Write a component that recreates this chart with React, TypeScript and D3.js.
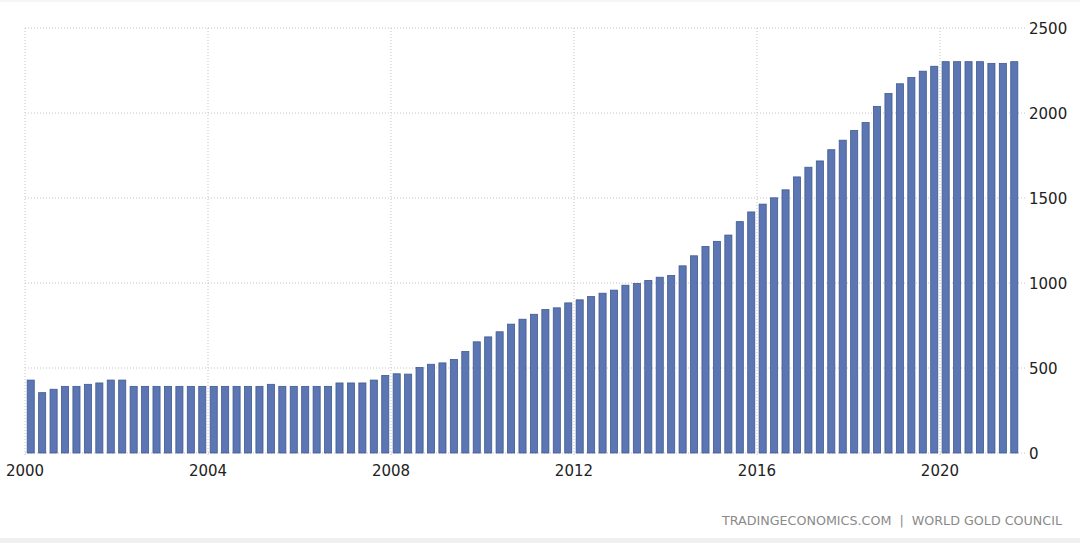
import * as d3 from 'd3';

// Russia gold reserves, tonnes, quarterly 2000 Q1 - 2021 Q3
const startYear = 2000;
const reserves = [
  429, 355, 375, 392, 392, 404, 412, 429, 429,
  392, 392, 392, 392, 392, 392, 392, 392, 392, 392, 392, 392,
  404, 392, 392, 392, 392, 392, 412, 412, 412, 429,
  456, 466, 464, 503, 522, 530, 550, 597, 654, 683, 713, 758, 787, 816,
  844, 854, 883, 901, 920, 940, 958, 987, 997, 1015, 1034, 1044, 1101,
  1160, 1215, 1245, 1282, 1361, 1418, 1464, 1501, 1548, 1624, 1681, 1718,
  1784, 1840, 1897, 1944, 2039, 2115, 2172, 2209, 2246, 2275,
  2302, 2302, 2302, 2302, 2292, 2292, 2302,
];
const quarters = reserves.map((_, i) => `${startYear + Math.floor(i / 4)}-Q${(i % 4) + 1}`);
const yearTicks = [2000, 2004, 2008, 2012, 2016, 2020];
const valueTicks = [0, 500, 1000, 1500, 2000, 2500];
const source = 'TRADINGECONOMICS.COM  |  WORLD GOLD COUNCIL';

export default function App() {
  const width = 1080;
  const height = 543;
  const left = 25;
  const right = 1020;
  const top = 28;
  const bottom = 453;

  const xBand = d3
    .scaleBand()
    .domain(quarters)
    .range([left, right])
    .paddingInner(0.38)
    .paddingOuter(0.19);

  const xYear = d3
    .scaleLinear()
    .domain([startYear, startYear + reserves.length / 4])
    .range([left, right]);

  const yScale = d3.scaleLinear().domain([0, 2500]).range([bottom, top]);

  const font = '"DejaVu Sans", Verdana, sans-serif';

  return (
    <div style={{ position: 'absolute', left: 0, top: 0 }}>
      <svg width={width} height={height} style={{ display: 'block', background: '#fff' }}>
        <line x1={0} x2={width} y1={1} y2={1} stroke="#ececec" />
        <rect x={0} y={538} width={width} height={5} fill="#f0f0f0" />

        {valueTicks.map((v) => (
          <line
            key={'h' + v}
            x1={left}
            x2={1025}
            y1={yScale(v)}
            y2={yScale(v)}
            stroke="#c4c4c4"
            strokeDasharray="1,2"
          />
        ))}
        {yearTicks.map((yr) => (
          <line
            key={'v' + yr}
            x1={xYear(yr)}
            x2={xYear(yr)}
            y1={top}
            y2={bottom + 4}
            stroke="#c4c4c4"
            strokeDasharray="1,2"
          />
        ))}

        {reserves.map((v, i) => (
          <rect
            key={i}
            x={xBand(quarters[i])}
            y={yScale(v)}
            width={xBand.bandwidth()}
            height={bottom - yScale(v)}
            fill="#5b76b2"
            stroke="#405a90"
            strokeWidth={0.8}
          />
        ))}

        {yearTicks.map((yr) => (
          <text
            key={'t' + yr}
            x={xYear(yr)}
            y={476}
            textAnchor="middle"
            fontFamily={font}
            fontSize={15}
            fill="#222"
          >
            {yr}
          </text>
        ))}
        {valueTicks.map((v) => (
          <text
            key={'y' + v}
            x={1029}
            y={yScale(v) + 5.5}
            fontFamily={font}
            fontSize={15}
            fill="#222"
          >
            {v}
          </text>
        ))}

        <text
          x={722}
          y={525}
          fontFamily={font}
          fontSize={12.5}
          fill="#8a8a8a"
          textLength={340}
          lengthAdjust="spacingAndGlyphs"
          style={{ whiteSpace: 'pre' }}
        >
          {source}
        </text>
      </svg>
    </div>
  );
}
